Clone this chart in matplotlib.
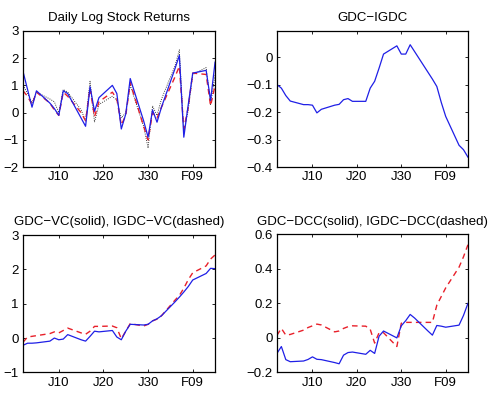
import numpy as np
import matplotlib
matplotlib.use('Agg')
import matplotlib.pyplot as plt

plt.rcParams['font.family'] = ['Liberation Sans', 'DejaVu Sans']
plt.rcParams['font.size'] = 9.5

# day numbers (1 = first of January), weekdays only
days = [2, 3, 4, 5, 8, 9, 10, 11, 12, 15, 16, 17, 18, 19, 22, 23, 24, 25, 26,
        29, 30, 31, 32, 33, 36, 37, 38, 39, 40, 43, 44, 45]
tick_days = [10, 20, 30, 40]
tick_labels = ['J10', 'J20', 'J30', 'F09']

# daily log stock returns
ret_a = [1.5, 0.85, 0.2, 0.8, 0.35, 0.15, -0.1, 0.8, 0.7, -0.2, -0.5, 0.95, 0.05, 0.55,
         1.0, 0.7, -0.6, -0.05, 1.25, -0.3, -0.9, 0.1, -0.35, 0.2, 1.6, 2.1, -0.9, 0.3,
         1.45, 1.55, 0.45, 1.85]
ret_b = [0.8, 0.6, 0.3, 0.75, 0.35, 0.1, -0.1, 0.75, 0.6, 0.0, -0.3, 0.9, -0.15, 0.4,
         0.75, 0.5, -0.45, -0.1, 1.1, -0.5, -1.0, 0.0, -0.2, 0.2, 1.3, 1.7, -0.6, 0.2,
         1.45, 1.4, 0.25, 1.0]
ret_c = [1.0, 0.7, 0.35, 0.75, 0.5, 0.4, 0.0, 0.85, 0.75, 0.1, -0.3, 1.15, -0.35, 0.3,
         0.6, 0.45, -0.2, 0.0, 1.0, -0.5, -1.3, 0.25, -0.1, 0.5, 1.7, 2.3, -0.7, 0.1,
         1.4, 1.65, 0.3, 1.4]

# GDC - IGDC
gdc_igdc = [-0.10, -0.113, -0.14, -0.16, -0.173, -0.173, -0.175, -0.203, -0.19, -0.175,
            -0.172, -0.155, -0.151, -0.161, -0.161, -0.113, -0.088, -0.04, 0.011, 0.041,
            0.011, 0.011, 0.045, 0.02, -0.055, -0.08, -0.107, -0.165, -0.216, -0.321,
            -0.337, -0.364]

# GDC - VC and IGDC - VC
gdc_vc = [-0.21, -0.15, -0.15, -0.14, -0.09, 0.0, -0.05, -0.03, 0.1, -0.05, -0.09, 0.05,
          0.2, 0.18, 0.22, 0.03, -0.05, 0.2, 0.4, 0.38, 0.4, 0.5, 0.56, 0.65, 1.05, 1.19,
          1.34, 1.5, 1.69, 1.88, 2.03, 2.02]
igdc_vc = [-0.12, 0.03, 0.05, 0.07, 0.13, 0.18, 0.15, 0.22, 0.29, 0.15, 0.11, 0.2, 0.34,
           0.34, 0.35, 0.3, -0.02, 0.2, 0.42, 0.35, 0.4, 0.5, 0.55, 0.65, 1.1, 1.24, 1.45,
           1.7, 1.9, 2.1, 2.3, 2.42]

# GDC - DCC and IGDC - DCC
gdc_dcc = [-0.09, -0.05, -0.126, -0.138, -0.134, -0.125, -0.11, -0.124, -0.126, -0.143,
           -0.15, -0.1, -0.085, -0.082, -0.095, -0.072, -0.09, 0.01, 0.04, 0.0, 0.07, 0.1,
           0.136, 0.115, 0.04, 0.016, 0.072, 0.068, 0.062, 0.074, 0.13, 0.2]
igdc_dcc = [0.015, 0.055, 0.016, 0.02, 0.045, 0.06, 0.07, 0.08, 0.075, 0.035, 0.04, 0.055,
            0.065, 0.07, 0.068, 0.05, -0.03, 0.03, 0.03, -0.05, 0.085, 0.09, 0.09, 0.09,
            0.09, 0.09, 0.19, 0.24, 0.29, 0.41, 0.47, 0.54]

blue = '#1f1fe6'
red = '#e8202a'


def setup(ax, title, ylim, yticks, ylabels):
    ax.set_xlim(days[0], days[-1])
    ax.set_ylim(*ylim)
    ax.set_xticks(tick_days)
    ax.set_xticklabels(tick_labels)
    ax.set_yticks(yticks)
    ax.set_yticklabels(ylabels)
    ax.tick_params(direction='in', top=True, right=True, length=2.5, width=0.6,
                   labelsize=9.5, pad=3)
    for s in ax.spines.values():
        s.set_linewidth(0.9)
    ax.set_title(title, fontsize=9.5, pad=7)


fig = plt.figure(figsize=(4.91, 4.0), dpi=100)

ax1 = fig.add_axes([0.047, 0.582, 0.391, 0.341])
ax1.plot(days, ret_c, ':', color='k', lw=0.6)
ax1.plot(days, ret_b, '--', color=red, lw=1.0, dashes=(4, 3))
ax1.plot(days, ret_a, '-', color=blue, lw=0.9)
setup(ax1, 'Daily Log Stock Returns', (-2, 3), [-2, -1, 0, 1, 2, 3],
      ['\u22122', '\u22121', '0', '1', '2', '3'])

ax2 = fig.add_axes([0.564, 0.5825, 0.389, 0.34])
ax2.plot(days, gdc_igdc, '-', color=blue, lw=0.9)
setup(ax2, 'GDC\u2212IGDC', (-0.4, 0.095), [-0.4, -0.3, -0.2, -0.1, 0],
      ['\u22120.4', '\u22120.3', '\u22120.2', '\u22120.1', '0'])

ax3 = fig.add_axes([0.047, 0.069, 0.391, 0.3435])
ax3.plot(days, igdc_vc, '--', color=red, lw=1.0, dashes=(4, 3))
ax3.plot(days, gdc_vc, '-', color=blue, lw=0.9)
setup(ax3, 'GDC\u2212VC(solid), IGDC\u2212VC(dashed)', (-1, 3), [-1, 0, 1, 2, 3],
      ['\u22121', '0', '1', '2', '3'])

ax4 = fig.add_axes([0.564, 0.069, 0.389, 0.345])
ax4.plot(days, igdc_dcc, '--', color=red, lw=1.0, dashes=(4, 3))
ax4.plot(days, gdc_dcc, '-', color=blue, lw=0.9)
setup(ax4, 'GDC\u2212DCC(solid), IGDC\u2212DCC(dashed)', (-0.2, 0.6),
      [-0.2, 0, 0.2, 0.4, 0.6], ['\u22120.2', '0', '0.2', '0.4', '0.6'])

fig.savefig('out.png', dpi=100)
